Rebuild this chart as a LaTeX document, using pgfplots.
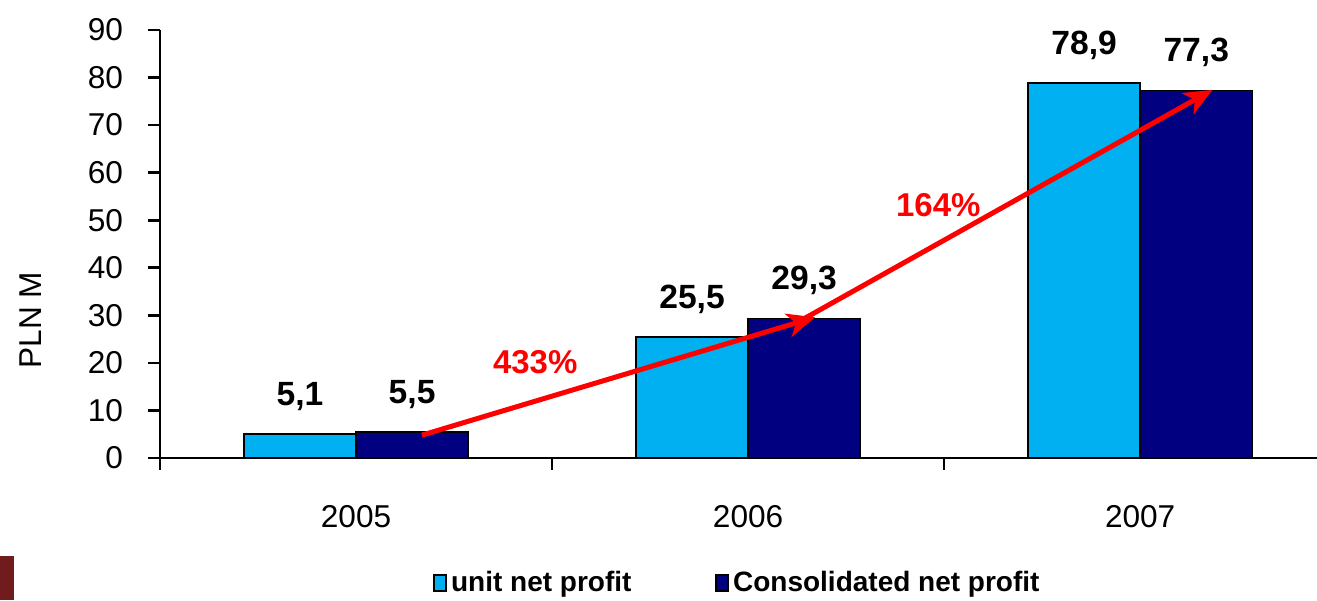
\documentclass[border=0pt]{standalone}
\usepackage{fontspec}
\setmainfont{Liberation Sans}
\usepackage{pgfplots}
\pgfplotsset{compat=1.18}
\usetikzlibrary{arrows.meta}
\definecolor{lightbar}{HTML}{00B0F0}
\definecolor{darkbar}{HTML}{000080}
\definecolor{logored}{HTML}{701C1C}

\begin{document}
\begin{tikzpicture}
\begin{axis}[
  name=ax,
  width=578.5pt, height=214pt, scale only axis,
  ybar=0pt, bar width=0.286,
  xmin=-0.5, xmax=2.451,
  ymin=0, ymax=90,
  ytick={0,10,...,90},
  xtick={-0.5,0.5,1.5}, xticklabels={},
  extra x ticks={0,1,2},
  extra x tick labels={2005,2006,2007},
  extra x tick style={major tick length=0pt},
  axis x line*=bottom, axis y line*=left,
  axis line style={line width=1.3pt},
  every tick/.style={black, line width=1.3pt},
  tick align=outside,
  major tick length=6pt,
  /pgf/number format/assume math mode=true,
  tick label style={font=\fontsize{15.8}{18}\selectfont},
  yticklabel style={xshift=-9pt},
  xticklabel style={yshift=-20pt},
  ylabel={PLN M},
  ylabel style={at={(axis description cs:-0.112,0.322)}, anchor=center, font=\fontsize{15.8}{18}\selectfont},
  nodes near coords={\pgfmathprintnumber[use comma,fixed,fixed zerofill,precision=1,assume math mode=true]{\pgfplotspointmeta}},
  every node near coord/.append style={font=\bfseries\fontsize{16.8}{19}\selectfont, black, yshift=8pt},
  legend style={at={(0.5,-0.292)}, anchor=center, draw=none, legend columns=2,
    font=\bfseries\fontsize{14}{16}\selectfont,
    /tikz/every even column/.append style={column sep=40pt}},
  legend image code/.code={\draw[#1, draw=black, line width=0.8pt] (0pt,-4pt) rectangle (6pt,4pt);},
]
\addplot[fill=lightbar, draw=black, line width=0.8pt] coordinates {(0,5.1) (1,25.5) (2,78.9)};
\addlegendentry{unit net profit}
\addplot[fill=darkbar, draw=black, line width=0.8pt] coordinates {(0,5.5) (1,29.3) (2,77.3)};
\addlegendentry{Consolidated net profit}

\draw[red, line width=2.5pt, -{Stealth[length=14pt,width=12pt,inset=4pt]}] (axis cs:0.168,4.8) -- (axis cs:1.171,29.6);
\draw[red, line width=2.5pt, -{Stealth[length=14pt,width=12pt,inset=4pt]}] (axis cs:1.145,29.4) -- (axis cs:2.184,77.4);
\node[red, font=\bfseries\fontsize{16.5}{19}\selectfont] at (axis cs:0.457,20.2) {433\%};
\node[red, font=\bfseries\fontsize{16.5}{19}\selectfont] at (axis cs:1.485,53.2) {164\%};
\end{axis}
\pgfresetboundingbox
\path (ax.south west) ++(-80pt,-71pt) coordinate (bl);
\path (ax.north east) ++(0pt,15pt) coordinate (tr);
\useasboundingbox (bl) rectangle (tr);
\fill[logored] (bl) rectangle ++(7pt,22pt);
\end{tikzpicture}
\end{document}
